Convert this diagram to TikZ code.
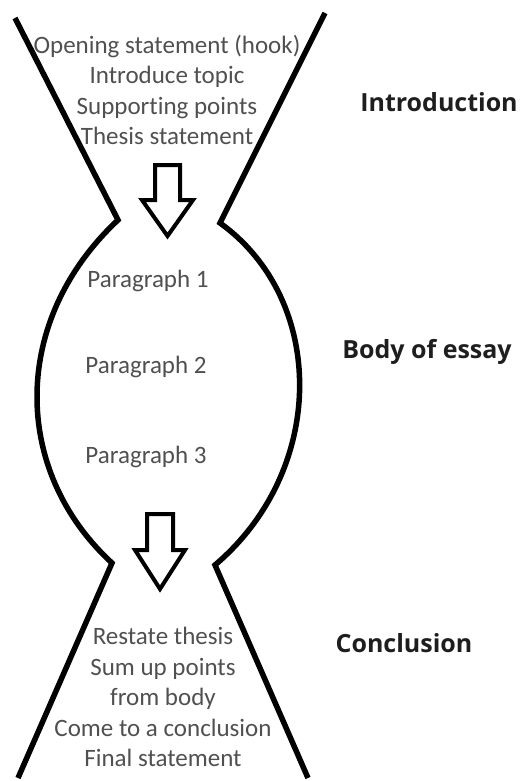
\documentclass[tikz,border=0pt]{standalone}
\usepackage{fontspec}
\setmainfont{Carlito}[Ligatures=NoCommon]
\newfontfamily\headfont{Open Sans}
\usepackage{xcolor}
\usetikzlibrary{positioning}

\definecolor{textgray}{HTML}{505050}
\definecolor{headgray}{HTML}{1E1E1E}

\begin{document}
\begin{tikzpicture}[
    x=1pt, y=-1pt,
    outline/.style={line width=5.5pt, draw=black, line join=miter},
    blockarrow/.style={line width=4pt, draw=black, fill=white, line join=miter},
    txt/.style={text=textgray, align=center, inner sep=0pt, font=\fontsize{25}{30.5}\selectfont},
    head/.style={text=headgray, inner sep=0pt, font=\headfont\bfseries\fontsize{25}{29}\selectfont}
]
    \useasboundingbox (0,0) rectangle (520,781);

    \draw [outline] (15,18) -- (118,220) .. controls (11,320) and (11,470) .. (112,563) -- (18,778);
    \draw [outline] (325,13) -- (220,223) .. controls (327,300) and (327,470) .. (215,565) -- (308,778);

    \draw [blockarrow] (155,165) -- (180,165) -- (180,200) -- (193,200) -- (167.5,236) -- (142,200) -- (155,200) -- cycle;
    \draw [blockarrow] (147,514) -- (173,514) -- (173,550) -- (185,550) -- (160,589) -- (135,550) -- (147,550) -- cycle;

    \node [txt] (intro) at (167,90) {Opening statement (hook)\\Introduce topic\\Supporting points\\Thesis statement};
    \node [txt] (p1) at (148,281) {Paragraph 1};
    \node [txt] (p2) at (146,367) {Paragraph 2};
    \node [txt] (p3) at (146,457) {Paragraph 3};
    \node [txt] (concl) at (163,697) {Restate thesis\\Sum up points\\from body\\Come to a conclusion\\Final statement};

    \node [head] (lintro) at (439,102) {Introduction};
    \node [head] (lbody) at (427,352) {Body of essay};
    \node [head] (lconcl) at (404,643) {Conclusion};
\end{tikzpicture}
\end{document}
